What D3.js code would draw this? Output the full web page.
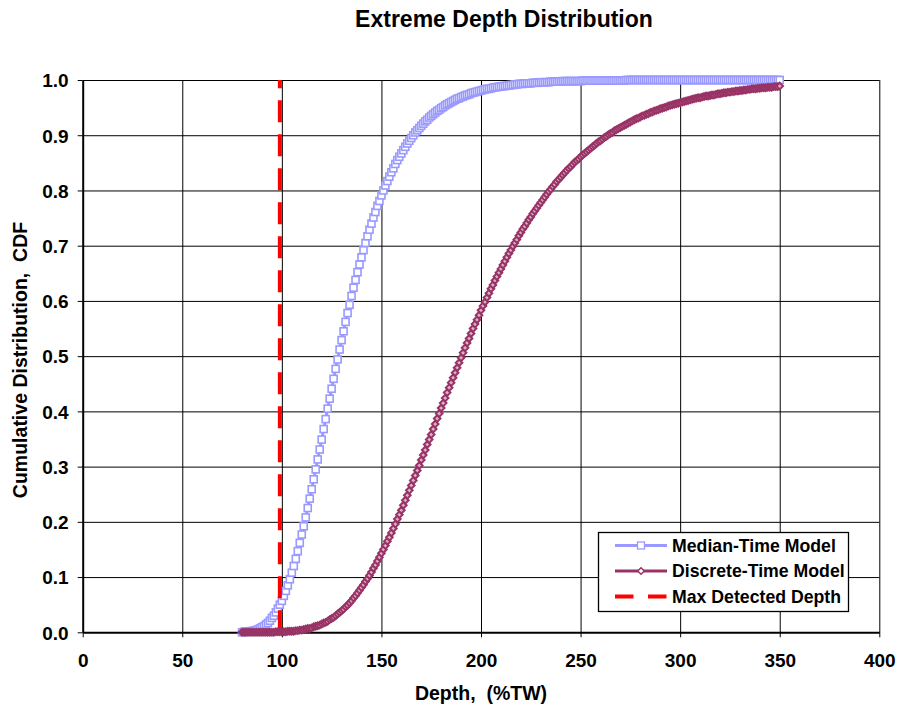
<!DOCTYPE html>
<html><head><meta charset="utf-8">
<script src="https://cdn.jsdelivr.net/npm/d3@7"></script>
<style>
body{margin:0;background:#fff}
svg text{font-family:"Liberation Sans",Arial,Helvetica,sans-serif;font-weight:bold;fill:#000;white-space:pre}
</style>
</head><body>
<svg id="chart" width="899" height="709"></svg>
<script>
// ---------- data ----------
const depth = d3.range(80, 351); // depth samples 80..350 (%TW), step 1

const medianTime = [
0,.001,.001,.001,.002,.002,.003,.004,.005,.007,
.009,.011,.014,.017,.021,.026,.030,.036,.043,.050,
.057,.066,.075,.085,.096,.108,.120,.133,.147,.162,
.177,.192,.208,.225,.242,.259,.277,.295,.313,.331,
.349,.368,.386,.405,.423,.441,.459,.477,.494,.512,
.529,.545,.562,.578,.593,.609,.624,.638,.652,.666,
.679,.692,.705,.717,.729,.740,.751,.761,.772,.781,
.791,.800,.809,.817,.825,.833,.840,.848,.855,.861,
.867,.873,.879,.885,.890,.895,.900,.905,.909,.913,
.917,.921,.925,.928,.932,.935,.938,.941,.944,.946,
.949,.951,.954,.956,.958,.960,.962,.964,.966,.967,
.969,.970,.972,.973,.974,.976,.977,.978,.979,.980,
.981,.982,.983,.984,.984,.985,.986,.987,.987,.988,
.988,.989,.989,.990,.990,.991,.991,.992,.992,.993,
.993,.993,.994,.994,.994,.994,.995,.995,.995,.995,
.996,.996,.996,.996,.996,.997,.997,.997,.997,.997,
.997,.998,.998,.998,.998,.998,.998,.998,.998,.998,
.998,.999,.999,.999,.999,.999,.999,.999,.999,.999,
.999,.999,.999,.999,.999,.999,.999,.999,.999,.999,
.999,.999,.999,1,1,1,1,1,1,1,
1,1,1,1,1,1,1,1,1,1,
1,1,1,1,1,1,1,1,1,1,
1,1,1,1,1,1,1,1,1,1,
1,1,1,1,1,1,1,1,1,1,
1,1,1,1,1,1,1,1,1,1,
1,1,1,1,1,1,1,1,1,1,
1,1,1,1,1,1,1,1,1,1,
1
];

const discreteTime = [
0,0,0,0,0,0,0,0,0,0,
0,0,0,0,0,0,0,.001,.001,.001,
.001,.001,.001,.002,.002,.002,.002,.003,.003,.004,
.004,.005,.006,.007,.007,.008,.010,.011,.012,.013,
.015,.017,.018,.020,.023,.025,.027,.030,.033,.036,
.039,.042,.046,.049,.053,.057,.062,.066,.071,.076,
.081,.086,.092,.097,.103,.109,.116,.122,.129,.136,
.143,.150,.157,.165,.172,.180,.188,.196,.205,.213,
.221,.230,.239,.248,.257,.266,.275,.284,.293,.302,
.312,.321,.330,.340,.349,.358,.368,.377,.387,.396,
.406,.415,.424,.434,.443,.452,.461,.470,.479,.488,
.497,.506,.515,.524,.532,.541,.550,.558,.566,.574,
.583,.591,.598,.606,.614,.622,.629,.637,.644,.651,
.658,.665,.672,.679,.686,.692,.699,.705,.711,.718,
.724,.730,.735,.741,.747,.752,.758,.763,.768,.773,
.778,.783,.788,.793,.798,.802,.807,.811,.816,.820,
.824,.828,.832,.836,.840,.843,.847,.851,.854,.857,
.861,.864,.867,.870,.873,.876,.879,.882,.885,.888,
.890,.893,.896,.898,.901,.903,.905,.908,.910,.912,
.914,.916,.918,.920,.922,.924,.926,.928,.930,.931,
.933,.935,.936,.938,.939,.941,.942,.944,.945,.946,
.948,.949,.950,.951,.953,.954,.955,.956,.957,.958,
.959,.960,.961,.962,.963,.964,.965,.966,.967,.968,
.968,.969,.970,.971,.971,.972,.973,.973,.974,.975,
.975,.976,.977,.977,.978,.978,.979,.979,.980,.980,
.981,.981,.982,.982,.983,.983,.984,.984,.984,.985,
.985,.986,.986,.986,.987,.987,.987,.988,.988,.988,
.989
];

const maxDetectedDepth = [99, 99];
const maxDetectedCdf = [0, 1];

const xTicks = [0, 50, 100, 150, 200, 250, 300, 350, 400];
const yTicks = [0, 0.1, 0.2, 0.3, 0.4, 0.5, 0.6, 0.7, 0.8, 0.9, 1.0];
const seriesNames = ["Median-Time Model", "Discrete-Time Model", "Max Detected Depth"];
const chartTitle = "Extreme Depth Distribution";
const xTitle = "Depth,  (%TW)";
const yTitle = "Cumulative Distribution,  CDF";

// ---------- layout ----------
const blue = "#9999FF", plum = "#993366", red = "#FF0000";
const P = {left: 82.7, right: 879.3, top: 80, bottom: 632.3};
const svg = d3.select("#chart");
const x = d3.scaleLinear().domain([0, 400]).range([P.left, P.right]);
const y = d3.scaleLinear().domain([0, 1]).range([P.bottom, P.top]);

// gridlines
const grid = svg.append("g");
grid.append("g").attr("transform", `translate(0,${P.bottom})`)
  .call(d3.axisBottom(x).tickValues(xTicks.slice(1)).tickSize(-(P.bottom - P.top)).tickFormat(""))
  .call(g => g.select(".domain").remove())
  .call(g => g.selectAll("line").attr("stroke", "#000").attr("stroke-width", 1));
grid.append("g").attr("transform", `translate(${P.left},0)`)
  .call(d3.axisLeft(y).tickValues(yTicks.slice(1)).tickSize(-(P.right - P.left)).tickFormat(""))
  .call(g => g.select(".domain").remove())
  .call(g => g.selectAll("line").attr("stroke", "#000").attr("stroke-width", 1));

// axes
const xAxis = svg.append("g").attr("transform", `translate(0,${P.bottom})`)
  .call(d3.axisBottom(x).tickValues(xTicks).tickSize(5).tickSizeOuter(0).tickFormat(d3.format("d")));
xAxis.select(".domain").attr("stroke", "#000").attr("stroke-width", 2);
xAxis.selectAll(".tick line").attr("stroke", "#000").attr("stroke-width", 1);
xAxis.selectAll(".tick text").attr("y", 35).attr("dy", 0)
  .style("font-size", "19px").attr("font-family", null).attr("fill", "#000");

const yAxis = svg.append("g").attr("transform", `translate(${P.left},0)`)
  .call(d3.axisLeft(y).tickValues(yTicks).tickSize(5).tickSizeOuter(0).tickFormat(d3.format(".1f")));
yAxis.select(".domain").attr("stroke", "#000").attr("stroke-width", 2);
yAxis.selectAll(".tick line").attr("stroke", "#000").attr("stroke-width", 1);
yAxis.selectAll(".tick text").attr("x", -14).attr("dy", "0.36em")
  .style("font-size", "19px").attr("font-family", null).attr("fill", "#000");

// series
const pts1 = depth.map((d, i) => [d, medianTime[i]]);
const pts2 = depth.map((d, i) => [d, discreteTime[i]]);
const line = d3.line().x(d => x(d[0])).y(d => y(d[1]));

const s1 = svg.append("g");
s1.append("path").datum(pts1).attr("d", line).attr("fill", "none")
  .attr("stroke", blue).attr("stroke-width", 3);
s1.selectAll("rect").data(pts1).join("rect")
  .attr("x", d => x(d[0]) - 3.5).attr("y", d => y(d[1]) - 3.5)
  .attr("width", 7).attr("height", 7)
  .attr("fill", "#fff").attr("stroke", blue).attr("stroke-width", 1.6);

// max detected depth
const redPts = maxDetectedDepth.map((d, i) => [d, maxDetectedCdf[i]]);
svg.append("path").datum(redPts).attr("d", line).attr("fill", "none")
  .attr("stroke", red).attr("stroke-width", 4).attr("stroke-dasharray", "22,12");

const diamond = "M0,-3.3L3.3,0L0,3.3L-3.3,0Z";
const s2 = svg.append("g");
s2.append("path").datum(pts2).attr("d", line).attr("fill", "none")
  .attr("stroke", plum).attr("stroke-width", 3.5);
s2.selectAll("path.m").data(pts2).join("path").attr("class", "m")
  .attr("transform", d => `translate(${x(d[0])},${y(d[1])})`)
  .attr("d", diamond).attr("fill", "#d9b3c6").attr("stroke", plum).attr("stroke-width", 2);

// titles
svg.append("text").attr("x", 504).attr("y", 27).attr("text-anchor", "middle")
  .style("font-size", "23px").text(chartTitle);
svg.append("text").attr("x", 481).attr("y", 700).attr("text-anchor", "middle")
  .style("font-size", "19.5px").text(xTitle);
svg.append("text").attr("transform", "translate(27,360) rotate(-90)").attr("text-anchor", "middle")
  .style("font-size", "19.5px").text(yTitle);

// legend
const lg = svg.append("g");
lg.append("rect").attr("x", 598.5).attr("y", 532.5).attr("width", 250).attr("height", 79)
  .attr("fill", "#fff").attr("stroke", "#000").attr("stroke-width", 1.3);
const rows = [545.5, 571, 596.5];
// row 1
lg.append("line").attr("x1", 615).attr("x2", 667).attr("y1", rows[0]).attr("y2", rows[0])
  .attr("stroke", blue).attr("stroke-width", 3);
lg.append("rect").attr("x", 641 - 3.5).attr("y", rows[0] - 3.5).attr("width", 7).attr("height", 7)
  .attr("fill", "#fff").attr("stroke", blue).attr("stroke-width", 1.3);
// row 2
lg.append("line").attr("x1", 615).attr("x2", 667).attr("y1", rows[1]).attr("y2", rows[1])
  .attr("stroke", plum).attr("stroke-width", 3);
lg.append("path").attr("transform", `translate(641,${rows[1]})`).attr("d", diamond)
  .attr("fill", "#fff").attr("stroke", plum).attr("stroke-width", 1.5);
// row 3
lg.append("line").attr("x1", 615).attr("x2", 667).attr("y1", rows[2]).attr("y2", rows[2])
  .attr("stroke", red).attr("stroke-width", 4).attr("stroke-dasharray", "18.5,14.5");
seriesNames.forEach((n, i) => {
  lg.append("text").attr("x", 672).attr("y", rows[i] + 6.3).style("font-size", "17.7px").text(n);
});
</script>
</body></html>
